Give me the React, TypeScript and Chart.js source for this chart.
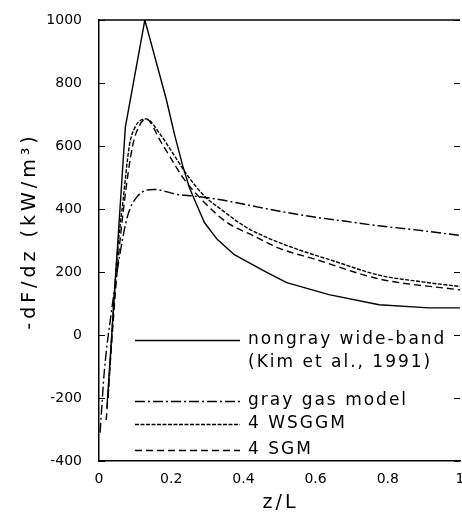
import React, { useEffect, useRef } from "react";
import { Chart, registerables } from "chart.js";

Chart.register(...registerables);

// ---- data ----
const xTicks = [0, 0.2, 0.4, 0.6, 0.8, 1];
const xTickLabels = ["0", "0.2", "0.4", "0.6", "0.8", "1"];
const yTicks = [-400, -200, 0, 200, 400, 600, 800, 1000];
const yTickLabels = ["-400", "-200", "0", "200", "400", "600", "800", "1000"];

const nongrayZ = [0.022, 0.073, 0.127, 0.186, 0.21, 0.232, 0.25, 0.264, 0.292, 0.328, 0.375, 0.41, 0.466, 0.52, 0.637, 0.776, 0.914, 1.0];
const nongrayV = [-230, 660, 1000, 750, 633, 537, 469, 431, 357, 303, 255, 233, 198, 166, 128, 96, 86, 86];

const grayZ = [0.003, 0.015, 0.034, 0.057, 0.079, 0.107, 0.153, 0.218, 0.264, 0.328, 0.402, 0.5, 0.6, 0.684, 0.78, 0.868, 1.0];
const grayV = [-310, -112, 70, 250, 377, 441, 462, 446, 441, 431, 415, 393, 374, 361, 346, 335, 316];

const wsggmZ = [0.025, 0.05, 0.066, 0.084, 0.1, 0.13, 0.172, 0.209, 0.246, 0.292, 0.338, 0.402, 0.466, 0.55, 0.65, 0.776, 0.9, 1.0];
const wsggmV = [-200, 250, 420, 600, 660, 686, 633, 569, 505, 441, 399, 346, 309, 272, 235, 190, 168, 154];

const sgmZ = [0.02, 0.05, 0.07, 0.093, 0.11, 0.13, 0.172, 0.209, 0.236, 0.292, 0.355, 0.43, 0.5, 0.6, 0.776, 1.0];
const sgmV = [-270, 200, 420, 600, 660, 686, 612, 542, 494, 421, 357, 314, 275, 240, 178, 143];

const seriesNames = ["nongray wide-band", "gray gas model", "4 WSGGM", "4 SGM"];
const legendSubLine = "(Kim et al., 1991)";
const yTitle = "-dF/dz (kW/m³)";
const xTitle = "z/L";

const dashes: number[][] = [[], [10, 3, 2, 3], [4, 1.5], [7, 4]];

const toPts = (xs: number[], ys: number[]) => xs.map((x, i) => ({ x, y: ys[i] }));

const FONT = '"DejaVu Sans", sans-serif';

const labelFor = (ticks: number[], labels: string[], v: any) => {
  const i = ticks.findIndex((t) => Math.abs(t - Number(v)) < 1e-9);
  return i >= 0 ? labels[i] : "";
};

const decor = {
  id: "decor",
  afterDraw(chart: any) {
    const { ctx, chartArea: a, scales } = chart;
    const y = scales.y;
    ctx.save();
    ctx.strokeStyle = "#000";
    ctx.fillStyle = "#000";
    // top border
    ctx.lineWidth = 1.5;
    ctx.beginPath();
    ctx.moveTo(a.left, a.top);
    ctx.lineTo(a.right, a.top);
    ctx.stroke();
    // inward ticks on left and right
    ctx.lineWidth = 1.2;
    y.ticks.forEach((t: any) => {
      const py = Math.round(y.getPixelForValue(t.value)) + 0.5;
      ctx.beginPath();
      ctx.moveTo(a.left, py);
      ctx.lineTo(a.left + 6, py);
      ctx.moveTo(a.right, py);
      ctx.lineTo(a.right - 6, py);
      ctx.stroke();
    });

    // legend
    const lx0 = a.left + 36;
    const lx1 = a.left + 141;
    const tx = a.left + 149;
    const rows = [a.top + 320, a.top + 381, a.top + 404, a.top + 430];
    ctx.font = `17px ${FONT}`;
    (ctx as any).letterSpacing = "2px";
    ctx.textAlign = "left";
    ctx.textBaseline = "middle";
    rows.forEach((ry, i) => {
      ctx.lineWidth = 1.4;
      ctx.setLineDash(dashes[i]);
      ctx.beginPath();
      ctx.moveTo(lx0, ry + 0.5);
      ctx.lineTo(lx1, ry + 0.5);
      ctx.stroke();
      ctx.setLineDash([]);
      ctx.fillText(seriesNames[i], tx, ry);
    });
    ctx.fillText(legendSubLine, tx, a.top + 343);

    // x title
    ctx.font = `19px ${FONT}`;
    (ctx as any).letterSpacing = "3px";
    ctx.textAlign = "center";
    ctx.fillText(xTitle, (a.left + a.right) / 2 + 1, a.bottom + 42);

    // y title
    ctx.translate(30, a.top + 211);
    ctx.rotate(-Math.PI / 2);
    (ctx as any).letterSpacing = "4px";
    ctx.fillText(yTitle, 0, 0);
    ctx.restore();
  },
};

export default function App() {
  const ref = useRef<HTMLCanvasElement | null>(null);
  useEffect(() => {
    document.body.style.margin = "0";
    const mk = (label: string, xs: number[], ys: number[], dash: number[], mono: boolean) => ({
      label,
      data: toPts(xs, ys),
      borderColor: "#000",
      borderWidth: 1.4,
      borderDash: dash,
      pointRadius: 0,
      fill: false,
      tension: 0,
      cubicInterpolationMode: mono ? "monotone" : "default",
    });
    const chart = new Chart(ref.current as HTMLCanvasElement, {
      type: "line",
      data: {
        datasets: [
          mk(seriesNames[0], nongrayZ, nongrayV, dashes[0], false),
          mk(seriesNames[1], grayZ, grayV, dashes[1], true),
          mk(seriesNames[2], wsggmZ, wsggmV, dashes[2], true),
          mk(seriesNames[3], sgmZ, sgmV, dashes[3], true),
        ] as any,
      },
      options: {
        responsive: false,
        animation: false,
        layout: { padding: { top: 20, right: 2, left: 0, bottom: 0 } },
        plugins: { legend: { display: false }, tooltip: { enabled: false } },
        scales: {
          x: {
            type: "linear",
            min: 0,
            max: 1,
            afterBuildTicks: (s: any) => {
              s.ticks = xTicks.map((v) => ({ value: v }));
            },
            ticks: {
              callback: (v: any) => labelFor(xTicks, xTickLabels, v),
              font: { family: FONT, size: 14 },
              color: "#000",
              padding: 10,
              maxRotation: 0,
              autoSkip: false,
            },
            grid: { display: true, drawOnChartArea: false, drawTicks: false, color: "rgba(0,0,0,0)" },
            border: { display: true, color: "#000", width: 1.5 },
            afterFit: (s: any) => {
              s.height = 61;
              s.paddingLeft = 0;
              s.paddingRight = 0;
            },
          },
          y: {
            type: "linear",
            min: -400,
            max: 1000,
            afterBuildTicks: (s: any) => {
              s.ticks = yTicks.map((v) => ({ value: v }));
            },
            ticks: {
              callback: (v: any) => labelFor(yTicks, yTickLabels, v),
              font: { family: FONT, size: 14 },
              color: "#000",
              padding: 17,
            },
            grid: { display: true, drawOnChartArea: false, drawTicks: false, color: "rgba(0,0,0,0)" },
            border: { display: true, color: "#000", width: 1.5 },
            afterFit: (s: any) => {
              s.width = 99;
              s.paddingTop = 0;
              s.paddingBottom = 0;
            },
          },
        },
      } as any,
      plugins: [decor],
    });
    return () => chart.destroy();
  }, []);
  return (
    <div style={{ position: "fixed", left: 0, top: 0, width: 462, height: 522, background: "#fff" }}>
      <canvas ref={ref} width={462} height={522} style={{ display: "block" }} />
    </div>
  );
}
